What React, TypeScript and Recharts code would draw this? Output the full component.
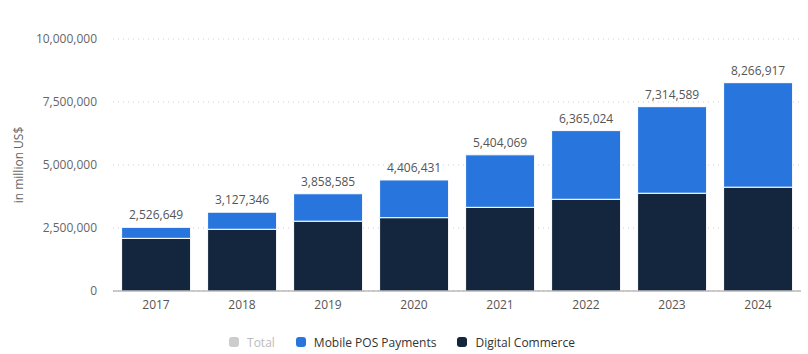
import React from 'react';
import { BarChart, Bar, XAxis, YAxis, CartesianGrid, Legend, LabelList } from 'recharts';

const years = ['2017', '2018', '2019', '2020', '2021', '2022', '2023', '2024'];
const totals = [2526649, 3127346, 3858585, 4406431, 5404069, 6365024, 7314589, 8266917];
const digitalCommerce = [2090000, 2450000, 2770000, 2910000, 3320000, 3640000, 3880000, 4120000];
const mobilePos = totals.map((t, i) => t - digitalCommerce[i]);
const yTicks = [0, 2500000, 5000000, 7500000, 10000000];

const legendItems = [
  { name: 'Total', color: '#cccccc', text: '#bbbbbb' },
  { name: 'Mobile POS Payments', color: '#2876dd', text: '#333333' },
  { name: 'Digital Commerce', color: '#13263e', text: '#333333' },
];

const data = years.map((y, i) => ({
  year: y,
  digital: digitalCommerce[i],
  mobile: mobilePos[i],
  total: totals[i],
}));

const fmt = (v: number) => v.toLocaleString('en-US');
const FONT = "'Open Sans', sans-serif";

const LegendContent = () => (
  <div
    style={{
      height: 33,
      boxSizing: 'border-box',
      paddingTop: 9,
      display: 'flex',
      justifyContent: 'center',
      alignItems: 'center',
      fontFamily: FONT,
      fontSize: 12,
      gap: 21,
      paddingLeft: 3,
    }}
  >
    {legendItems.map((it) => (
      <div key={it.name} style={{ display: 'flex', alignItems: 'center', height: 16 }}>
        <span
          style={{
            display: 'inline-block',
            width: 10,
            height: 10,
            borderRadius: 3,
            background: it.color,
            marginRight: 8,
          }}
        />
        <span style={{ color: it.text }}>{it.name}</span>
      </div>
    ))}
  </div>
);

export default function App() {
  return (
    <div style={{ position: 'absolute', left: 0, top: 0, background: '#fff' }}>
      <BarChart
        width={808}
        height={354}
        data={data}
        margin={{ top: 39, right: 7, bottom: 0, left: 0 }}
        barCategoryGap="10%"
      >
        <CartesianGrid vertical={false} stroke="#cfcfcf" strokeDasharray="1 4" />
        <XAxis
          dataKey="year"
          tickLine={false}
          axisLine={{ stroke: '#999999' }}
          tickSize={0}
          tickMargin={9}
          height={30}
          tick={{ fill: '#555555', fontSize: 12, fontFamily: FONT }}
        />
        <YAxis
          width={113}
          domain={[0, 10000000]}
          ticks={yTicks}
          tickFormatter={fmt}
          axisLine={false}
          tickLine={false}
          tickSize={0}
          tickMargin={16}
          tick={{ fill: '#666666', fontSize: 12, fontFamily: FONT }}
          label={{
            value: 'in million US$',
            angle: -90,
            position: 'insideLeft',
            offset: 19,
            style: { fill: '#666666', fontSize: 12, fontFamily: FONT, textAnchor: 'middle' },
          }}
        />
        <Legend verticalAlign="bottom" content={<LegendContent />} />
        <Bar dataKey="digital" stackId="a" fill="#13263e" stroke="#ffffff" strokeWidth={1} isAnimationActive={false} />
        <Bar dataKey="mobile" stackId="a" fill="#2876dd" stroke="#ffffff" strokeWidth={1} isAnimationActive={false}>
          <LabelList
            dataKey="total"
            position="top"
            offset={8}
            formatter={(v: number) => fmt(v)}
            style={{ fill: '#555555', fontSize: 12, fontFamily: FONT }}
          />
        </Bar>
      </BarChart>
    </div>
  );
}
